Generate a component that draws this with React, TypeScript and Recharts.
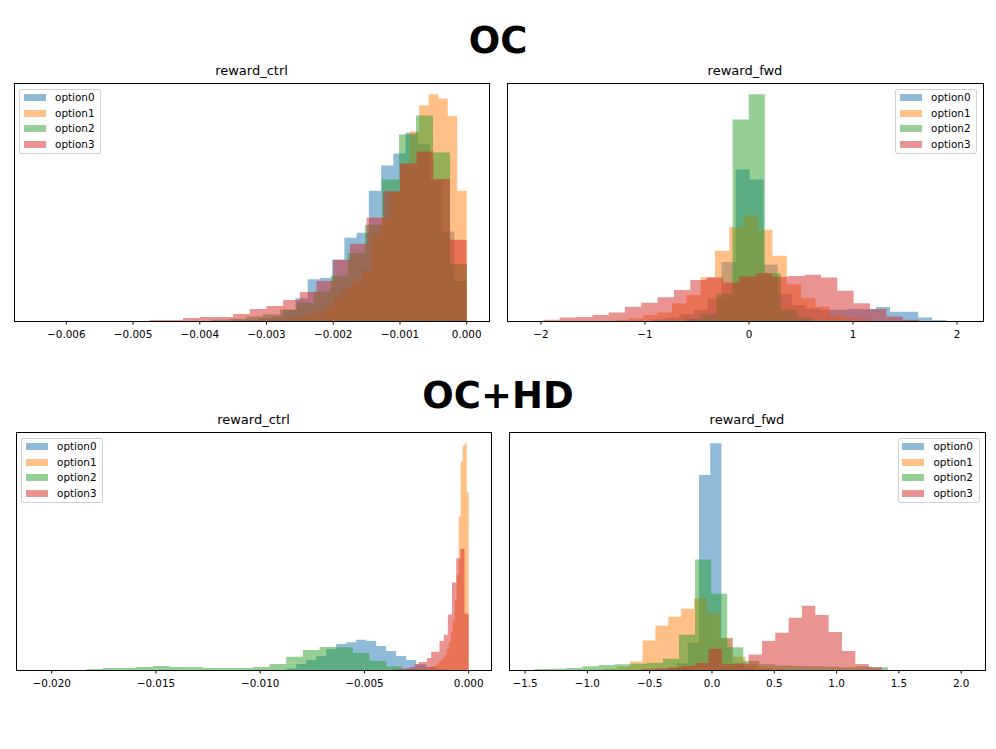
import React from 'react';
import { AreaChart, Area, XAxis, YAxis } from 'recharts';

const SERIES_NAMES = ['option0', 'option1', 'option2', 'option3'];
const SERIES_COLORS = ['#1f77b4', '#ff7f0e', '#2ca02c', '#d62728'];

// Each histogram: BINS = [first bin edge, bin width], values = bar heights (max bar of a panel = 100)

// ---- OC / reward_ctrl ----
const OC_CTRL_BINS0 = [-0.0034827, 0.0001833];
const OC_CTRL_OPT0 = [0.3, 0.6, 1.2, 2, 5, 10, 18.4, 19, 27, 36.7, 38.9, 57.5, 68.6, 73.9, 83, 78, 62, 39.5, 17.7];
const OC_CTRL_BINS1 = [-0.0032775, 0.0001425];
const OC_CTRL_OPT1 = [0.2, 0.3, 0.5, 0.8, 1.2, 1.8, 2.5, 3.7, 6.3, 10.8, 14.5, 17.7, 22.1, 38.1, 45.4, 56.9, 69.5, 83.6, 95.1, 100, 98.2, 90.3, 57.5];
const OC_CTRL_BINS2 = [-0.00382, 0.000255];
const OC_CTRL_OPT2 = [0.5, 1, 2, 3, 5, 8, 13, 20, 30, 42.5, 62.4, 82.3, 90.7, 74.3, 25];
const OC_CTRL_BINS3 = [-0.00475, 0.00025];
const OC_CTRL_OPT3 = [0.44, 0.44, 1.3, 1.8, 1.8, 3.1, 5.3, 6.6, 9.3, 12.8, 17.7, 27, 34.1, 45.7, 57.2, 69.5, 74.8, 62.7, 35.8];
const OC_CTRL_TICKS = [-0.006, -0.005, -0.004, -0.003, -0.002, -0.001, 0];
const OC_CTRL_DOMAIN = [-0.006784, 0.000334];

// ---- OC / reward_fwd ----
const OC_FWD_BINS0 = [-0.939, 0.135];
const OC_FWD_OPT0 = [0.8, 1.5, 3, 5, 10, 26, 66.8, 62.4, 24.8, 12, 7, 5.5, 5, 5, 5.3, 5.2, 6.2, 4.1, 4.1, 1.5, 0.44];
const OC_FWD_BINS1 = [-1.293, 0.138];
const OC_FWD_OPT1 = [0.6, 1.2, 2.6, 3.8, 7.8, 11.5, 19.3, 31, 41.4, 46.5, 40.3, 28.8, 16.2, 10, 6.3, 2.6, 1.5, 0.8];
const OC_FWD_BINS2 = [-0.623, 0.155];
const OC_FWD_OPT2 = [1, 3, 12, 88.9, 100, 21.1, 5, 1.5];
const OC_FWD_BINS3 = [-1.977, 0.157];
const OC_FWD_OPT3 = [0.6, 1.5, 1.8, 2.7, 3.8, 6.3, 8, 10.5, 13.7, 18.1, 19.2, 17, 19.6, 21.1, 19.5, 19.9, 20.4, 19.2, 13.3, 7.8, 5.3, 2, 0.5];
const OC_FWD_TICKS = [-2, -1, 0, 1, 2];
const OC_FWD_DOMAIN = [-2.327, 2.25];

// ---- OC+HD / reward_ctrl ----
const HD_CTRL_BINS0 = [-0.00875, 0.000479];
const HD_CTRL_OPT0 = [0.7, 2.7, 4.4, 6.2, 9.1, 11.5, 12.2, 13.3, 12.8, 10.6, 8.4, 6.2, 4.4, 2.5, 1.3, 0.6];
const HD_CTRL_BINS1 = [-0.0023975, 0.0000959];
const HD_CTRL_OPT1 = [0.2, 0.3, 0.4, 0.6, 0.8, 1, 1.3, 1.6, 2, 2.7, 3.5, 4.4, 5.3, 7, 9.4, 12, 16.8, 22, 30.8, 42, 67.7, 92, 99, 100, 78.3];
const HD_CTRL_BINS2 = [-0.01834, 0.000799];
const HD_CTRL_OPT2 = [0.44, 0.9, 0.9, 1.3, 1.8, 1.3, 1.3, 0.9, 0.9, 0.9, 1.3, 2.7, 5.8, 8.8, 10.2, 10, 7.5, 4, 1.5, 0.4];
const HD_CTRL_BINS3 = [-0.0036, 0.0002];
const HD_CTRL_OPT3 = [0.3, 0.4, 0.6, 0.9, 1.3, 2.5, 3.5, 3.5, 5.3, 8, 8, 12.8, 15.6, 24.5, 38.6, 49.3, 53.4, 24.8];
const HD_CTRL_TICKS = [-0.02, -0.015, -0.01, -0.005, 0];
const HD_CTRL_DOMAIN = [-0.021711, 0.001069];

// ---- OC+HD / reward_fwd ----
const HD_FWD_BINS0 = [-0.374, 0.09];
const HD_FWD_OPT0 = [1, 3, 12, 86, 100, 14, 3, 1];
const HD_FWD_BINS1 = [-0.867, 0.1033];
const HD_FWD_OPT1 = [0.6, 1.5, 3.8, 13, 19.5, 23.5, 27, 31.5, 25, 14.2, 5.8, 2.5, 1, 0.5];
const HD_FWD_BINS2 = [-1.426, 0.129];
const HD_FWD_OPT2 = [0.4, 0.6, 0.9, 1.6, 2.2, 2.5, 2.8, 3.2, 5, 15.6, 48.7, 33.6, 10, 4, 2.5, 2, 1.8, 1.6, 1.4, 1.2, 1.5, 1.2];
const HD_FWD_BINS3 = [-0.562, 0.107];
const HD_FWD_OPT3 = [0.5, 0.8, 1.2, 1.8, 3.1, 9.3, 2.5, 2.9, 6.8, 12.8, 16.4, 23, 28.3, 24.3, 16.8, 8.4, 2.7, 1.2];
const HD_FWD_TICKS = [-1.5, -1, -0.5, 0, 0.5, 1, 1.5, 2];
const HD_FWD_DOMAIN = [-1.629, 2.191];

const Y_DOMAIN = [0, 105];
const FONT = 'DejaVu Sans';

function minusFmt(decimals: number) {
  return (v: number) => {
    const s = Math.abs(v) < 1e-12 ? (0).toFixed(decimals) : v.toFixed(decimals);
    return s.replace('-', '\u2212');
  };
}

function buildRows(series: { bins: number[]; counts: number[] }[]) {
  const map = new Map<string, any>();
  series.forEach((s, k) => {
    const [start, w] = s.bins;
    const n = s.counts.length;
    for (let i = 0; i <= n; i++) {
      const x = start + i * w;
      const key = x.toFixed(10);
      let row = map.get(key);
      if (!row) {
        row = { x };
        map.set(key, row);
      }
      row['s' + k] = s.counts[Math.min(i, n - 1)];
    }
  });
  return Array.from(map.values()).sort((a, b) => a.x - b.x);
}

const PANELS = [
  {
    title: 'reward_ctrl', left: 14, top: 83, w: 475, h: 238,
    domain: OC_CTRL_DOMAIN, ticks: OC_CTRL_TICKS, fmt: minusFmt(3),
    legend: { left: 19.3, top: 89.3 },
    series: [
      { bins: OC_CTRL_BINS0, counts: OC_CTRL_OPT0 },
      { bins: OC_CTRL_BINS1, counts: OC_CTRL_OPT1 },
      { bins: OC_CTRL_BINS2, counts: OC_CTRL_OPT2 },
      { bins: OC_CTRL_BINS3, counts: OC_CTRL_OPT3 },
    ],
  },
  {
    title: 'reward_fwd', left: 507, top: 83, w: 476, h: 238,
    domain: OC_FWD_DOMAIN, ticks: OC_FWD_TICKS, fmt: minusFmt(0),
    legend: { left: 895.3, top: 89.3 },
    series: [
      { bins: OC_FWD_BINS0, counts: OC_FWD_OPT0 },
      { bins: OC_FWD_BINS1, counts: OC_FWD_OPT1 },
      { bins: OC_FWD_BINS2, counts: OC_FWD_OPT2 },
      { bins: OC_FWD_BINS3, counts: OC_FWD_OPT3 },
    ],
  },
  {
    title: 'reward_ctrl', left: 16, top: 432, w: 475, h: 238,
    domain: HD_CTRL_DOMAIN, ticks: HD_CTRL_TICKS, fmt: minusFmt(3),
    legend: { left: 21.3, top: 438.3 },
    series: [
      { bins: HD_CTRL_BINS0, counts: HD_CTRL_OPT0 },
      { bins: HD_CTRL_BINS1, counts: HD_CTRL_OPT1 },
      { bins: HD_CTRL_BINS2, counts: HD_CTRL_OPT2 },
      { bins: HD_CTRL_BINS3, counts: HD_CTRL_OPT3 },
    ],
  },
  {
    title: 'reward_fwd', left: 509, top: 432, w: 476, h: 238,
    domain: HD_FWD_DOMAIN, ticks: HD_FWD_TICKS, fmt: minusFmt(1),
    legend: { left: 897.7, top: 438.3 },
    series: [
      { bins: HD_FWD_BINS0, counts: HD_FWD_OPT0 },
      { bins: HD_FWD_BINS1, counts: HD_FWD_OPT1 },
      { bins: HD_FWD_BINS2, counts: HD_FWD_OPT2 },
      { bins: HD_FWD_BINS3, counts: HD_FWD_OPT3 },
    ],
  },
];

function LegendBox({ left, top }: { left: number; top: number }) {
  return (
    <div
      style={{
        position: 'absolute', left, top, width: 82, height: 65, boxSizing: 'border-box',
        border: '1px solid rgba(204,204,204,0.9)', borderRadius: 3, background: 'rgba(255,255,255,0.8)',
      }}
    >
      {SERIES_NAMES.map((name, i) => {
        const cy = 7.5 + 15.6 * i;
        return (
          <React.Fragment key={name}>
            <div
              style={{
                position: 'absolute', left: 3.8, top: cy - 3.5, width: 22, height: 7,
                background: SERIES_COLORS[i], opacity: 0.5,
              }}
            />
            <div
              style={{
                position: 'absolute', left: 34.8, top: cy - 5.5, fontSize: 10.4, lineHeight: '10.4px',
                fontFamily: FONT, color: '#000', whiteSpace: 'nowrap',
              }}
            >
              {name}
            </div>
          </React.Fragment>
        );
      })}
    </div>
  );
}

function Panel({ p }: { p: any }) {
  const PADX = 30;
  const PADT = 5;
  const XH = 30;
  const rows = buildRows(p.series);
  return (
    <div style={{ position: 'absolute', left: p.left - PADX, top: p.top - PADT }}>
      <AreaChart
        width={p.w + 2 * PADX}
        height={p.h + PADT + XH}
        data={rows}
        margin={{ top: PADT, left: PADX, right: PADX, bottom: 0 }}
      >
        <XAxis
          type="number"
          dataKey="x"
          domain={p.domain}
          ticks={p.ticks}
          interval={0}
          allowDataOverflow
          height={XH}
          tickSize={3.5}
          tickMargin={6.5}
          tickFormatter={p.fmt}
          tick={{ fontSize: 10.4, fill: '#000', fontFamily: FONT }}
          axisLine={false}
          tickLine={{ stroke: '#000', strokeWidth: 1 }}
        />
        <YAxis hide width={0} type="number" domain={Y_DOMAIN} allowDataOverflow />
        {p.series.map((_: any, k: number) => (
          <Area
            key={k}
            type="stepAfter"
            dataKey={'s' + k}
            name={SERIES_NAMES[k]}
            fill={SERIES_COLORS[k]}
            fillOpacity={0.5}
            stroke="none"
            connectNulls
            dot={false}
            activeDot={false}
            isAnimationActive={false}
          />
        ))}
      </AreaChart>
      <div
        style={{
          position: 'absolute', left: PADX - 0.5, top: PADT - 0.5, width: p.w + 1, height: p.h + 1,
          border: '1px solid #000', boxSizing: 'border-box', pointerEvents: 'none',
        }}
      />
      <div
        style={{
          position: 'absolute', left: PADX + p.w / 2 - 150, top: PADT - 8 - 11, width: 300,
          textAlign: 'center', fontSize: 13, lineHeight: '13px', fontFamily: FONT, color: '#000',
        }}
      >
        {p.title}
      </div>
    </div>
  );
}

export default function App() {
  return (
    <div
      style={{
        position: 'absolute', left: 0, top: 0, width: 996, height: 749, background: '#fff',
        fontFamily: FONT, overflow: 'hidden',
      }}
    >
      <div
        style={{
          position: 'absolute', left: 0, top: 22, width: 996, textAlign: 'center',
          fontSize: 37, lineHeight: '37px', fontWeight: 'bold', fontFamily: FONT, color: '#000',
        }}
      >
        OC
      </div>
      <div
        style={{
          position: 'absolute', left: 0, top: 377, width: 996, textAlign: 'center',
          fontSize: 37, lineHeight: '37px', fontWeight: 'bold', fontFamily: FONT, color: '#000',
        }}
      >
        OC+HD
      </div>
      {PANELS.map((p, i) => (
        <Panel key={i} p={p} />
      ))}
      {PANELS.map((p, i) => (
        <LegendBox key={'l' + i} left={p.legend.left} top={p.legend.top} />
      ))}
    </div>
  );
}
